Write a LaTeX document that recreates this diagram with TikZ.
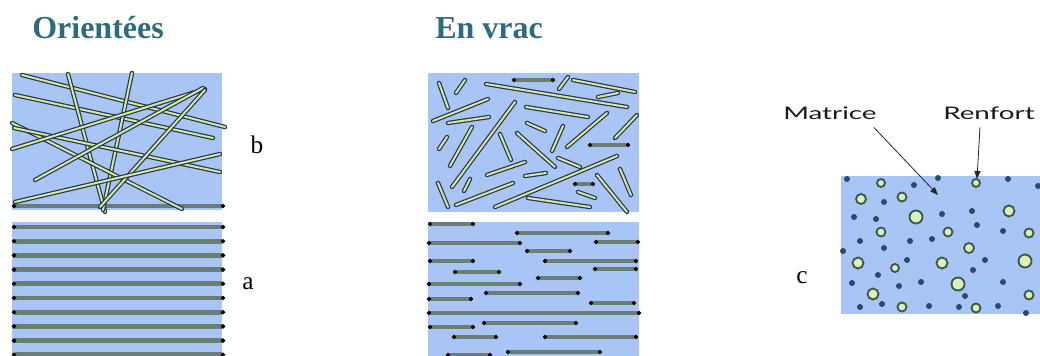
\documentclass[tikz,border=0pt]{standalone}
\usepackage{fontspec}
\setmainfont{Liberation Serif}
\newfontfamily\gillfont{Lato}
\usepackage{graphicx}
\usepackage{xcolor}
\usetikzlibrary{arrows.meta}
\definecolor{fond}{HTML}{A9C5F6}
\definecolor{titre}{HTML}{2F6B7F}
\definecolor{barregris}{HTML}{6A7E76}
\definecolor{fibrebord}{HTML}{24364F}
\definecolor{fibrecoeur}{HTML}{D6E7A2}
\definecolor{pointbleu}{HTML}{2E4868}
\definecolor{grainbord}{HTML}{3E5848}
\definecolor{graincoeur}{HTML}{DAF1BE}
\tikzset{%
    fibre/.style={draw=fibrebord, line width=0.9pt, double=fibrecoeur,
        double distance=1.5pt, line cap=round},
    barre/.style={draw=barregris, line width=3.2pt,
        {Circle[length=3pt,color=black]}-{Circle[length=3pt,color=black]}},
    raie/.style={barre, line width=3.7pt},
    grain/.style={fill=graincoeur, draw=grainbord, line width=1.4pt},
    point/.style={fill=pointbleu},
    fleche/.style={-{Triangle[length=6pt,width=4.5pt]}, line width=0.6pt, draw=black!85},
    titrenode/.style={anchor=base west, inner sep=0pt, text=titre,
        font=\fontsize{24}{28}\selectfont\bfseries},
    lettre/.style={inner sep=0pt, font=\fontsize{19}{22}\selectfont},
    legende/.style={anchor=base west, inner sep=0pt, text=black!90,
        font=\gillfont\fontsize{13}{15}\selectfont}
}
\begin{document}
\begin{tikzpicture}[x=0.75pt, y=-0.75pt]
\useasboundingbox (0,0) rectangle (1040,356);

\node[titrenode] (orientees) at (32,39) {Orientées};
\node[titrenode] (envrac) at (435,39) {En vrac};

% fibres longues
\fill[fond] (12,73) rectangle (222,210);
\draw[raie] (12,206) -- (225,206);
\foreach \xa/\ya/\xb/\yb in {22/75/225/127, 15/95/213/138, 68/74/105/212, 132/73/103/210,
    12/123/182/209, 14/128/220/172, 12/149/205/89, 35/180/203/88, 100/207/205/90, 15/202/220/154}
    \draw[fibre] (\xa,\ya) -- (\xb,\yb);
\node[lettre] (b) at (257,145) {b};

\fill[fond] (12,222) rectangle (222,356);
\foreach \k in {0,...,9}
    \draw[raie] (12,{227+14.2*\k}) -- (225,{227+14.2*\k});
\node[lettre] (a) at (248,284) {a};

% fibres courtes
\fill[fond] (428,73) rectangle (639,212);
\foreach \xa/\ya/\xb/\yb in {439/83/448/108, 465/80/456/93, 568/77/559/89, 573/80/635/92,
    486/84/627/107, 598/97/618/93, 433/121/488/99, 448/123/489/117, 526/107/588/117,
    515/102/452/187, 472/127/450/166, 447/137/439/149, 527/123/545/131, 563/126/552/151,
    607/113/567/147, 637/115/615/138, 500/134/511/160, 517/133/555/167, 558/158/580/167,
    487/175/525/162, 525/176/546/173, 470/179/464/191, 617/156/495/207, 438/183/448/207,
    456/205/513/183, 528/198/590/207, 578/192/595/198, 597/175/627/212, 620/169/631/195}
    \draw[fibre] (\xa,\ya) -- (\xb,\yb);
\foreach \xa/\xb/\y in {512/555/80, 588/630/145, 573/595/184}
    \draw[barre] (\xa,\y) -- (\xb,\y);

\fill[fond] (428,222) rectangle (639,356);
\foreach \xa/\xb/\y in {428/475/224, 515/610/233, 427/522/243, 594/640/242, 525/572/251,
    428/475/261, 543/638/261, 453/501/272, 593/638/269, 536/582/278, 427/522/284,
    484/580/293, 427/473/299, 589/636/303, 427/641/313, 482/578/323, 428/475/327,
    452/498/337, 543/638/337, 506/602/352, 446/492/355}
    \draw[barre] (\xa,\y) -- (\xb,\y);

% particules
\fill[fond] (841,176) rectangle (1040,314);
\foreach \x/\y in {847/179, 914/185, 938/178, 1008/179, 1038/186, 884/202, 854/217, 876/219,
    942/214, 972/211, 977/225, 1003/231, 860/241, 910/241, 932/239, 843/251, 884/248,
    907/260, 985/260, 973/270, 878/275, 852/283, 899/286, 921/282, 1003/282, 965/296,
    860/307, 882/304, 929/306, 959/307, 998/306, 1026/313}
    \fill[point] (\x,\y) circle (3);
\foreach \x/\y/\r in {881/183/4, 976/183/4, 861/199/5, 902/197/4.5, 916/217/6.5, 1009/211/5.5,
    881/232/4.5, 948/232/4.5, 1029/233/4.5, 969/248/5, 858/263/5.5, 895/268/4, 942/263/5.5,
    1025/261/6.5, 958/284/6.5, 873/294/5.5, 1029/295/4.5, 902/307/4.5, 976/308/4.5}
    \filldraw[grain] (\x,\y) circle (\r);
\node[lettre] (c) at (802,278) {c};

\node[legende] (matrice) at (783,120) {\scalebox{1.6}[1]{Matrice}};
\node[legende] (renfort) at (943,120) {\scalebox{1.6}[1]{Renfort}};
\coordinate (mcible) at (938,195);
\coordinate (rcible) at (977,179);
\draw[fleche] ([shift={(-3,7)}]matrice.south east) -- (mcible);
\draw[fleche] ([shift={(-9,7)}]renfort.south) -- (rcible);
\end{tikzpicture}
\end{document}
